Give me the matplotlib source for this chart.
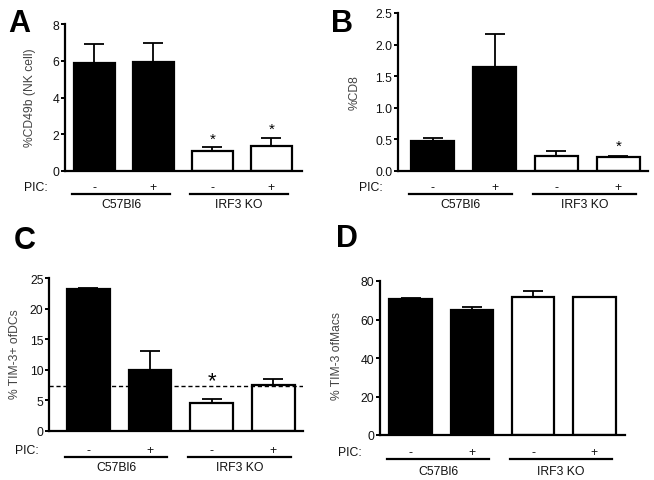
import matplotlib
matplotlib.use('Agg')
import matplotlib.pyplot as plt
from matplotlib.transforms import blended_transform_factory

plt.rcParams['font.family'] = ['Liberation Sans', 'DejaVu Sans']

W, H = 654, 481

treatments = ['-', '+', '-', '+']
groups = ['C57Bl6', 'IRF3 KO']
fills = ['black', 'black', 'white', 'white']

# panel A: %CD49b (NK cell)
a_means = [5.86, 5.95, 1.09, 1.38]
a_sem = [1.04, 1.03, 0.23, 0.43]
a_stars = [None, None, 1.74, 2.29]

# panel B: %CD8
b_means = [0.48, 1.64, 0.24, 0.22]
b_sem = [0.05, 0.52, 0.08, 0.02]
b_stars = [None, None, None, 0.40]

# panel C: % TIM-3+ of DCs
c_means = [23.2, 9.97, 4.6, 7.56]
c_sem = [0.2, 3.1, 0.7, 0.95]
c_baseline = 7.3
c_star_y = 8.2

# panel D: % TIM-3 of Macs
d_means = [70.6, 65.1, 71.5, 71.5]
d_sem = [0.6, 1.5, 3.1, 0.0]

FS = 8.8
TXT = '#111111'


def px_axes(fig, left, top, right, bottom):
    return fig.add_axes([left / W, 1 - bottom / H, (right - left) / W, (bottom - top) / H])


def draw_panel(ax, means, sem, ylim, yticks, ticklabels, xlim, offs, ah):
    x = range(len(means))
    ax.bar(x, means, width=0.69, color=fills, edgecolor='black', linewidth=1.6, zorder=2)
    ax.errorbar(x, means, yerr=[[0] * len(sem), sem], fmt='none', ecolor='black',
                elinewidth=1.3, capsize=7.5, capthick=1.3, zorder=1)
    ax.set_xlim(*xlim)
    ax.set_ylim(*ylim)
    ax.set_yticks(yticks)
    ax.set_yticklabels(ticklabels, fontsize=FS, color=TXT)
    ax.set_xticks([])
    for s in ['top', 'right']:
        ax.spines[s].set_visible(False)
    for s in ['left', 'bottom']:
        ax.spines[s].set_linewidth(1.6)
    ax.tick_params(axis='y', length=3, width=1.4, pad=1)

    tr = blended_transform_factory(ax.transData, ax.transAxes)
    pic_y, line_y, lab_y = [-o / ah for o in offs]
    ax.text(-1.19, pic_y, 'PIC:', transform=tr, ha='left', va='center', fontsize=FS,
            color=TXT)
    for i, t in enumerate(treatments):
        ax.text(i, pic_y, t, transform=tr, ha='center', va='center', fontsize=FS,
                color=TXT)
    for g, name in enumerate(groups):
        x0 = 2 * g
        ax.plot([x0 - 0.38, x0 + 1.28], [line_y, line_y], transform=tr, color='black',
                lw=1.6, clip_on=False)
        ax.text(x0 + 0.45, lab_y, name, transform=tr, ha='center', va='center',
                fontsize=FS, color=TXT)


fig = plt.figure(figsize=(W / 100, H / 100), dpi=100)

# A
axA = px_axes(fig, 65, 25, 302, 172)
draw_panel(axA, a_means, a_sem, (0, 8), [0, 2, 4, 6, 8], ['0', '2', '4', '6', '8'],
           (-0.5, 3.52), (16, 23, 33), 147)
for i, s in enumerate(a_stars):
    if s is not None:
        axA.text(i, s, '*', ha='center', va='center', fontsize=11)
fig.text(30 / W, 1 - 98 / H, '%CD49b (NK cell)', rotation=90, ha='center', va='center',
         fontsize=8.7, color='#444444')

# B
axB = px_axes(fig, 398, 14, 648, 172)
draw_panel(axB, b_means, b_sem, (0, 2.5), [0, 0.5, 1.0, 1.5, 2.0, 2.5],
           ['0.0', '0.5', '1.0', '1.5', '2.0', '2.5'], (-0.56, 3.48), (16, 23, 33), 158)
for i, s in enumerate(b_stars):
    if s is not None:
        axB.text(i, s, '*', ha='center', va='center', fontsize=11)
fig.text(355 / W, 1 - 93 / H, '%CD8', rotation=90, ha='center', va='center',
         fontsize=8.7, color='#444444')

# C
axC = px_axes(fig, 49, 279, 303, 432)
draw_panel(axC, c_means, c_sem, (0, 25), [0, 5, 10, 15, 20, 25],
           ['0', '5', '10', '15', '20', '25'], (-0.64, 3.48), (19, 26, 36), 153)
axC.axhline(c_baseline, color='black', lw=1.0, ls=(0, (3, 2)), zorder=3)
axC.text(2, c_star_y, '*', ha='center', va='center', fontsize=16)
fig.text(15 / W, 1 - 354 / H, '% TIM-3+ ofDCs', rotation=90, ha='center', va='center',
         fontsize=8.7, color='#444444')

# D
axD = px_axes(fig, 380, 282, 625, 436)
draw_panel(axD, d_means, d_sem, (0, 80), [0, 20, 40, 60, 80],
           ['0', '20', '40', '60', '80'], (-0.5, 3.5), (17, 24, 36), 154)
fig.text(337 / W, 1 - 356 / H, '% TIM-3 ofMacs', rotation=90, ha='center', va='center',
         fontsize=8.7, color='#444444')

# panel letters
for letter, lx, ly in [('A', 8, 9), ('B', 331, 9), ('C', 14, 226), ('D', 336, 224)]:
    fig.text(lx / W, 1 - ly / H, letter, ha='left', va='top', fontsize=22,
             fontweight='bold')

fig.savefig('out.png', dpi=100)
